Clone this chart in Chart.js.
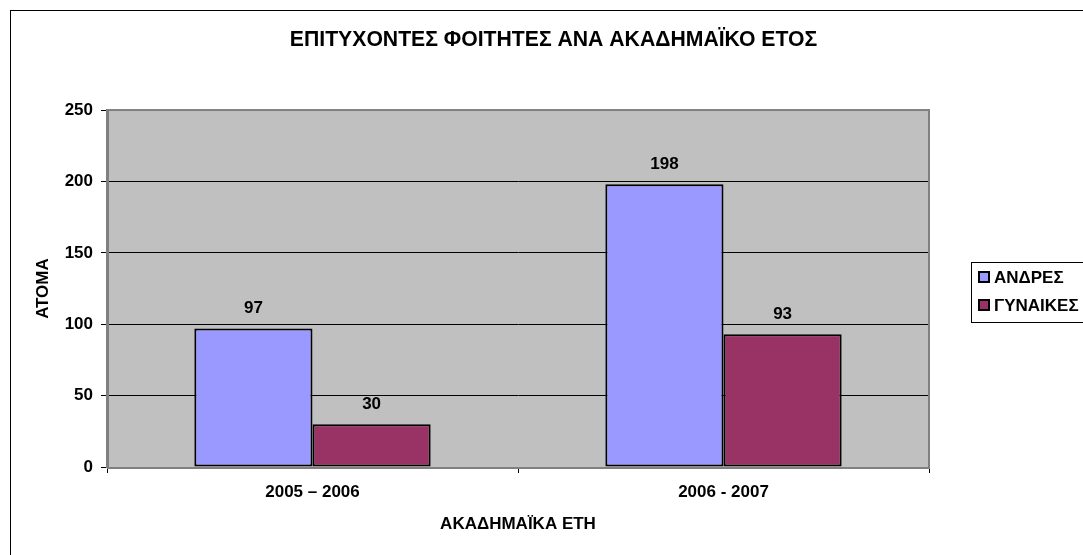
<!DOCTYPE html>
<html>
<head>
<meta charset="utf-8">
<script src="https://cdn.jsdelivr.net/npm/chart.js@4"></script>
<style>
  html, body { margin: 0; padding: 0; background: #fff; }
  #wrap { width: 1083px; height: 555px; }
</style>
</head>
<body>
<div id="wrap"><canvas id="myChart" width="1083" height="555"></canvas></div>
<script>
const years = ['2005 – 2006', '2006 - 2007'];
const men = [97, 198];
const women = [30, 93];
const seriesNames = ['ΑΝΔΡΕΣ', 'ΓΥΝΑΙΚΕΣ'];
const yTicks = [0, 50, 100, 150, 200, 250];

const FONT = '"Liberation Sans", Arial, sans-serif';

// gray plot background, outer frame, plot border
const frame = {
    id: 'frame',
    beforeDraw(chart) {
        const ctx = chart.ctx;
        const a = chart.chartArea;
        ctx.save();
        ctx.fillStyle = '#fff';
        ctx.fillRect(0, 0, chart.width, chart.height);
        ctx.fillStyle = '#c0c0c0';
        ctx.fillRect(a.left, a.top, a.right - a.left, a.bottom - a.top);
        ctx.strokeStyle = '#000';
        ctx.lineWidth = 1;
        ctx.strokeRect(10.5, 10.5, chart.width + 20, chart.height + 20);
        ctx.restore();
    },
    beforeDatasetsDraw(chart) {
        const ctx = chart.ctx;
        const a = chart.chartArea;
        ctx.save();
        ctx.strokeStyle = '#808080';
        ctx.lineWidth = 2;
        ctx.strokeRect(a.left + 1, a.top, a.right - a.left - 1, a.bottom - a.top + 1);
        ctx.restore();
    }
};

// value labels above bars
const valueLabels = {
    id: 'valueLabels',
    afterDatasetsDraw(chart) {
        const ctx = chart.ctx;
        ctx.save();
        ctx.font = 'bold 17px ' + FONT;
        ctx.fillStyle = '#000';
        ctx.textAlign = 'center';
        ctx.textBaseline = 'middle';
        chart.data.datasets.forEach((ds, i) => {
            chart.getDatasetMeta(i).data.forEach((bar, j) => {
                ctx.fillText(ds.data[j], bar.x, bar.y - 20);
            });
        });
        ctx.restore();
    }
};

// boxed legend like the spreadsheet one
const boxLegend = {
    id: 'boxLegend',
    afterDraw(chart) {
        const ctx = chart.ctx;
        const left = 971, top = 262;
        ctx.save();
        ctx.strokeStyle = '#000';
        ctx.lineWidth = 1;
        ctx.strokeRect(left + 0.5, top + 0.5, 130, 60);
        ctx.font = 'bold 17px ' + FONT;
        ctx.textBaseline = 'middle';
        ctx.textAlign = 'left';
        chart.data.datasets.forEach((ds, i) => {
            const cy = 277 + i * 28;
            ctx.fillStyle = ds.backgroundColor;
            ctx.fillRect(979, cy - 5, 10, 10);
            ctx.lineWidth = 2;
            ctx.strokeStyle = '#000';
            ctx.strokeRect(979, cy - 5, 10, 10);
            ctx.fillStyle = '#000';
            ctx.fillText(ds.label, 994, cy + 1);
        });
        ctx.restore();
    }
};

const ctx = document.getElementById('myChart').getContext('2d');
const myChart = new Chart(ctx, {
    type: 'bar',
    data: {
        labels: years,
        datasets: [{
            label: seriesNames[0],
            data: men,
            backgroundColor: '#9999ff',
            borderColor: '#000',
            borderWidth: 2,
            borderSkipped: false
        }, {
            label: seriesNames[1],
            data: women,
            backgroundColor: '#993366',
            borderColor: '#000',
            borderWidth: 2,
            borderSkipped: false
        }]
    },
    options: {
        responsive: false,
        animation: false,
        devicePixelRatio: 1,
        layout: { padding: { left: 24, right: 0, top: 0, bottom: 0 } },
        datasets: {
            bar: { categoryPercentage: 0.575, barPercentage: 1 }
        },
        plugins: {
            legend: { display: false },
            tooltip: { enabled: false },
            title: {
                display: true,
                text: 'ΕΠΙΤΥΧΟΝΤΕΣ ΦΟΙΤΗΤΕΣ ΑΝΑ ΑΚΑΔΗΜΑΪΚΟ ΕΤΟΣ',
                color: '#000',
                font: { family: FONT, size: 21.2, weight: 'bold' },
                padding: { top: 27.3, bottom: 57.3 }
            }
        },
        scales: {
            x: {
                grid: {
                    drawOnChartArea: false,
                    drawTicks: true,
                    tickLength: 6,
                    color: '#000',
                    offset: true
                },
                border: { color: '#000', width: 1 },
                ticks: {
                    color: '#000',
                    padding: 9,
                    font: { family: FONT, size: 17, weight: 'bold' }
                },
                title: {
                    display: true,
                    text: 'ΑΚΑΔΗΜΑΪΚΑ ΕΤΗ',
                    color: '#000',
                    font: { family: FONT, size: 17, weight: 'bold' },
                    padding: { top: 0, bottom: 20 }
                },
                afterFit: s => { s.height = 88; }
            },
            y: {
                min: 0,
                max: 250,
                afterBuildTicks: s => { s.ticks = yTicks.map(v => ({ value: v })); },
                grid: {
                    color: '#000',
                    lineWidth: 1,
                    tickLength: 6,
                    drawTicks: true
                },
                border: { color: '#808080', width: 2 },
                ticks: {
                    color: '#000',
                    padding: 8,
                    font: { family: FONT, size: 17, weight: 'bold' }
                },
                title: {
                    display: true,
                    text: 'ΑΤΟΜΑ',
                    color: '#000',
                    font: { family: FONT, size: 17, weight: 'bold' },
                    padding: { top: 9, bottom: 0 }
                },
                afterFit: s => { s.width = 83; }
            },
            yRight: {
                position: 'right',
                grid: { display: false },
                border: { display: false },
                ticks: { display: false },
                afterFit: s => { s.width = 154; }
            }
        }
    },
    plugins: [frame, valueLabels, boxLegend]
});
</script>
</body>
</html>
